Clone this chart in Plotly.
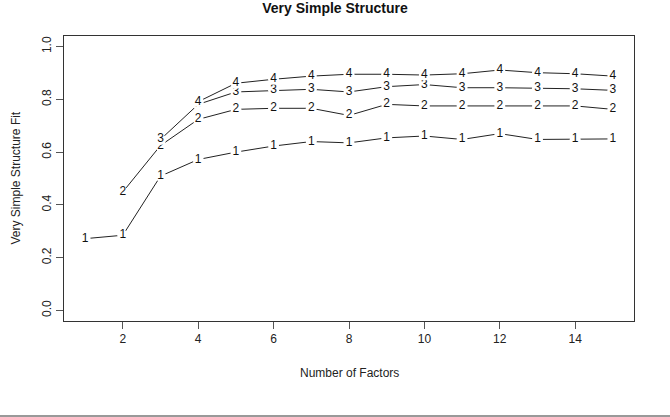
import plotly.graph_objects as go

factors = list(range(1, 16))
fit_c1 = [0.272, 0.285, 0.509, 0.572, 0.600, 0.623, 0.640, 0.635, 0.654, 0.661, 0.648, 0.670, 0.648, 0.648, 0.650]
fit_c2 = [0.449, 0.625, 0.724, 0.762, 0.766, 0.766, 0.739, 0.781, 0.775, 0.775, 0.775, 0.775, 0.775, 0.762]
fit_c3 = [0.648, 0.781, 0.828, 0.834, 0.838, 0.828, 0.848, 0.856, 0.844, 0.844, 0.842, 0.840, 0.834]
fit_c4 = [0.791, 0.861, 0.876, 0.888, 0.895, 0.895, 0.892, 0.897, 0.911, 0.901, 0.897, 0.888]
series = [("1", fit_c1), ("2", fit_c2), ("3", fit_c3), ("4", fit_c4)]

x_ticks = [2, 4, 6, 8, 10, 12, 14]
y_ticks = [0.0, 0.2, 0.4, 0.6, 0.8, 1.0]
y_tick_text = ["0.0", "0.2", "0.4", "0.6", "0.8", "1.0"]

FONT = "Liberation Sans, Arial, sans-serif"

fig = go.Figure()
for label, vals in series:
    xs = factors[len(factors) - len(vals):]
    fig.add_trace(go.Scatter(
        x=xs, y=vals, mode="lines+markers+text",
        text=[label] * len(vals), textposition="middle center",
        textfont=dict(family=FONT, size=12, color="#111111"),
        line=dict(color="#222222", width=1),
        marker=dict(color="white", size=11, line=dict(width=0)),
        showlegend=False, hoverinfo="x+y", cliponaxis=False,
    ))

fig.update_layout(
    width=670, height=417,
    margin=dict(l=64, r=36, t=36, b=96),
    paper_bgcolor="white", plot_bgcolor="white",
    font=dict(family=FONT, size=12, color="#222222"),
    title=dict(text="<b>Very Simple Structure</b>", x=0.5, xanchor="center",
               y=1 - 8 / 417, yanchor="middle",
               font=dict(family=FONT, size=14, color="#111111")),
    xaxis=dict(range=[0.44, 15.56], tickvals=x_ticks, ticks="outside", ticklen=7,
               tickcolor="#555555", showgrid=False, zeroline=False,
               showline=True, linecolor="#333333", linewidth=1, mirror=True,
               tickfont=dict(size=12)),
    yaxis=dict(range=[-0.04, 1.04], tickvals=y_ticks, ticktext=y_tick_text,
               tickangle=-90, ticks="outside", ticklen=7, tickcolor="#555555",
               showgrid=False, zeroline=False,
               showline=True, linecolor="#333333", linewidth=1, mirror=True,
               tickfont=dict(size=12)),
    annotations=[
        dict(text="Number of Factors", xref="paper", yref="paper", x=0.5, y=-52 / 285,
             xanchor="center", yanchor="middle", showarrow=False,
             font=dict(family=FONT, size=12, color="#222222")),
        dict(text="Very Simple Structure Fit", xref="paper", yref="paper",
             x=-49 / 570, y=0.5, xanchor="center", yanchor="middle", textangle=-90,
             showarrow=False, font=dict(family=FONT, size=12, color="#222222")),
    ],
    shapes=[
        dict(type="line", xref="paper", yref="paper", x0=-64 / 570, x1=1 + 36 / 570,
             y0=-95 / 285, y1=-95 / 285, line=dict(color="#999999", width=2)),
    ],
)

fig.write_html("out.html")
